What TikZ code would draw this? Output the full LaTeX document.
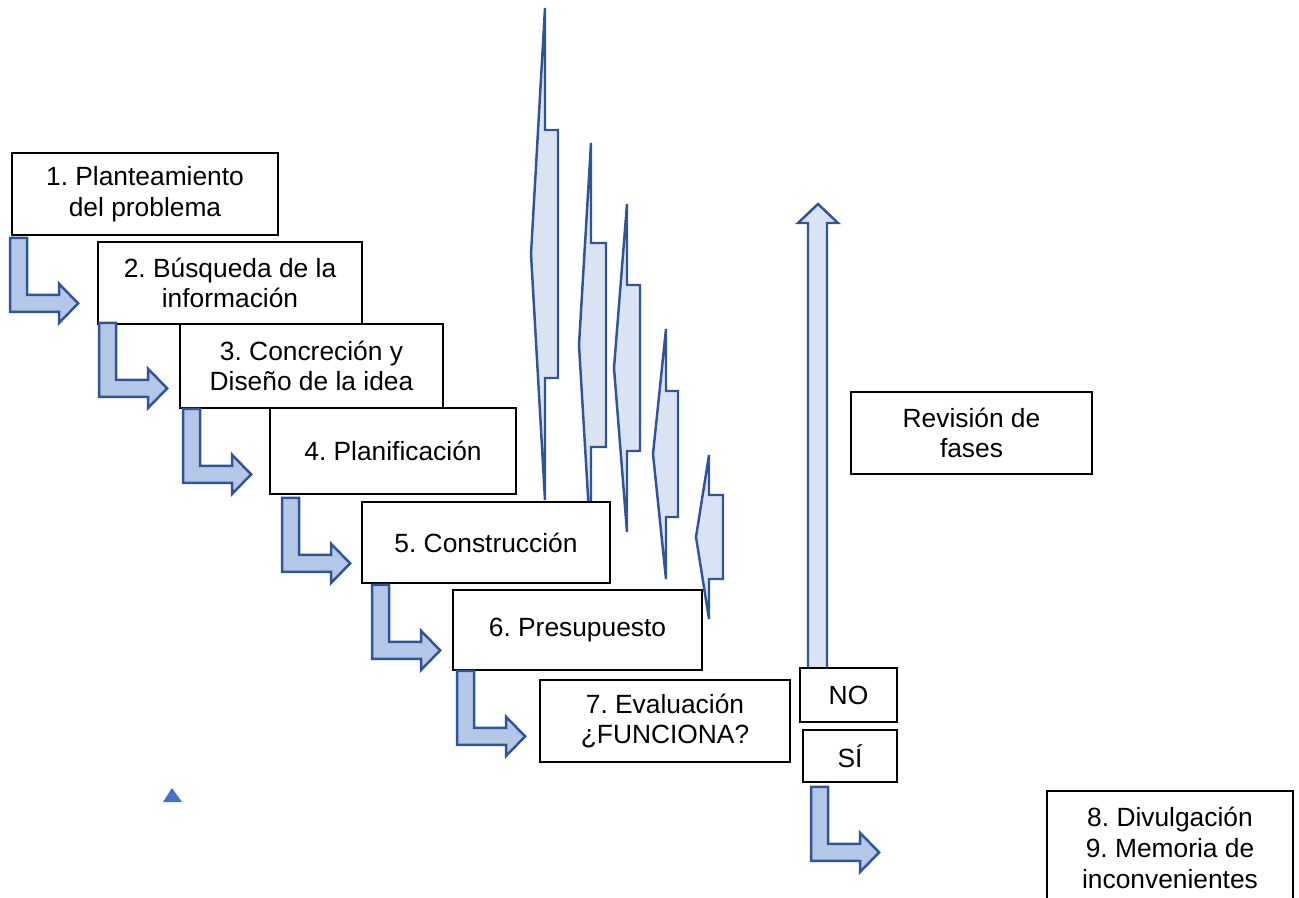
\documentclass[tikz,border=0pt]{standalone}
\usepackage{fontspec}
\setmainfont{Liberation Sans}
\frenchspacing
\usetikzlibrary{positioning,calc}
\definecolor{arrowline}{HTML}{2F5597}
\definecolor{arrowfill}{HTML}{B4C7E7}
\definecolor{spikefill}{HTML}{DAE3F3}
\definecolor{marker}{HTML}{4472C4}

\begin{document}
\begin{tikzpicture}[x=0.02cm,y=-0.02cm,
		box/.style={draw,fill=white,line width=1pt,align=center,inner sep=0pt,font=\fontsize{15}{17.5}\selectfont},
		blockarrow/.style={draw=arrowline,fill=arrowfill,line width=1.4pt},
		spike/.style={draw=arrowline,fill=spikefill,line width=1.4pt}]
	\useasboundingbox (0,0) rectangle (1299,897);
	\clip (0,0) rectangle (1299,897);
	\foreach \xb/\xr/\xt/\yc/\hh/\sh in {545/558/531/254/246/124,591/606/579/345/202/102,627/640/614/368/164/83,666/678/653/454/125/63,709/723/696/537/82/42} {
		\draw[spike] (\xb,\yc-\hh) -- (\xb,\yc-\sh) -- (\xr,\yc-\sh) -- (\xr,\yc+\sh) -- (\xb,\yc+\sh) -- (\xb,\yc+\hh) -- (\xt,\yc) -- cycle;
	}
	\draw[spike] (808,672) -- (808,223) -- (798,223) -- (818,204) -- (838,223) -- (827,223) -- (827,672) -- cycle;
	\node[box,minimum width=5.32cm,minimum height=1.64cm] (b1) at (145,194) {1. Planteamiento\\del problema};
	\node[box,minimum width=5.28cm,minimum height=1.64cm] (b2) at (230,283) {2. Búsqueda de la\\información};
	\node[box,minimum width=5.26cm,minimum height=1.68cm] (b3) at (311.5,366) {3. Concreción y\\Diseño de la idea};
	\node[box,minimum width=4.92cm,minimum height=1.72cm] (b4) at (393,451) {4. Planificación};
	\node[box,minimum width=4.96cm,minimum height=1.62cm] (b5) at (486,542.5) {5. Construcción};
	\node[box,minimum width=4.98cm,minimum height=1.6cm] (b6) at (577.5,630) {6. Presupuesto};
	\node[box,minimum width=5cm,minimum height=1.64cm] (b7) at (665,721) {7. Evaluación\\¿FUNCIONA?};
	\node[box,minimum width=1.94cm,minimum height=1.08cm] (no) at (848.5,695) {NO};
	\node[box,minimum width=1.88cm,minimum height=1.04cm] (si) at (850,756) {SÍ};
	\node[box,minimum width=4.82cm,minimum height=1.64cm] (rev) at (971.5,433) {Revisión de\\fases};
	\node[box,minimum width=4.92cm,minimum height=2.28cm] (dv) at (1170,848) {8. Divulgación\\9. Memoria de\\inconvenientes};
	\foreach \b/\dx/\dy in {b1/-1/2,b2/2/-2,b3/4/0,b4/13/3,b5/11/1,b6/5/0,si/9/4} {
		\draw[blockarrow] ($(\b.south west)+(\dx,\dy)$) -- ++(17,0) -- ++(0,57) -- ++(32,0) -- ++(0,-11) -- ++(19,19.5) -- ++(-19,19.5) -- ++(0,-11) -- ++(-49,0) -- cycle;
	}
	\fill[marker] (172,788) -- (182,802) -- (163,802) -- cycle;
\end{tikzpicture}
\end{document}
